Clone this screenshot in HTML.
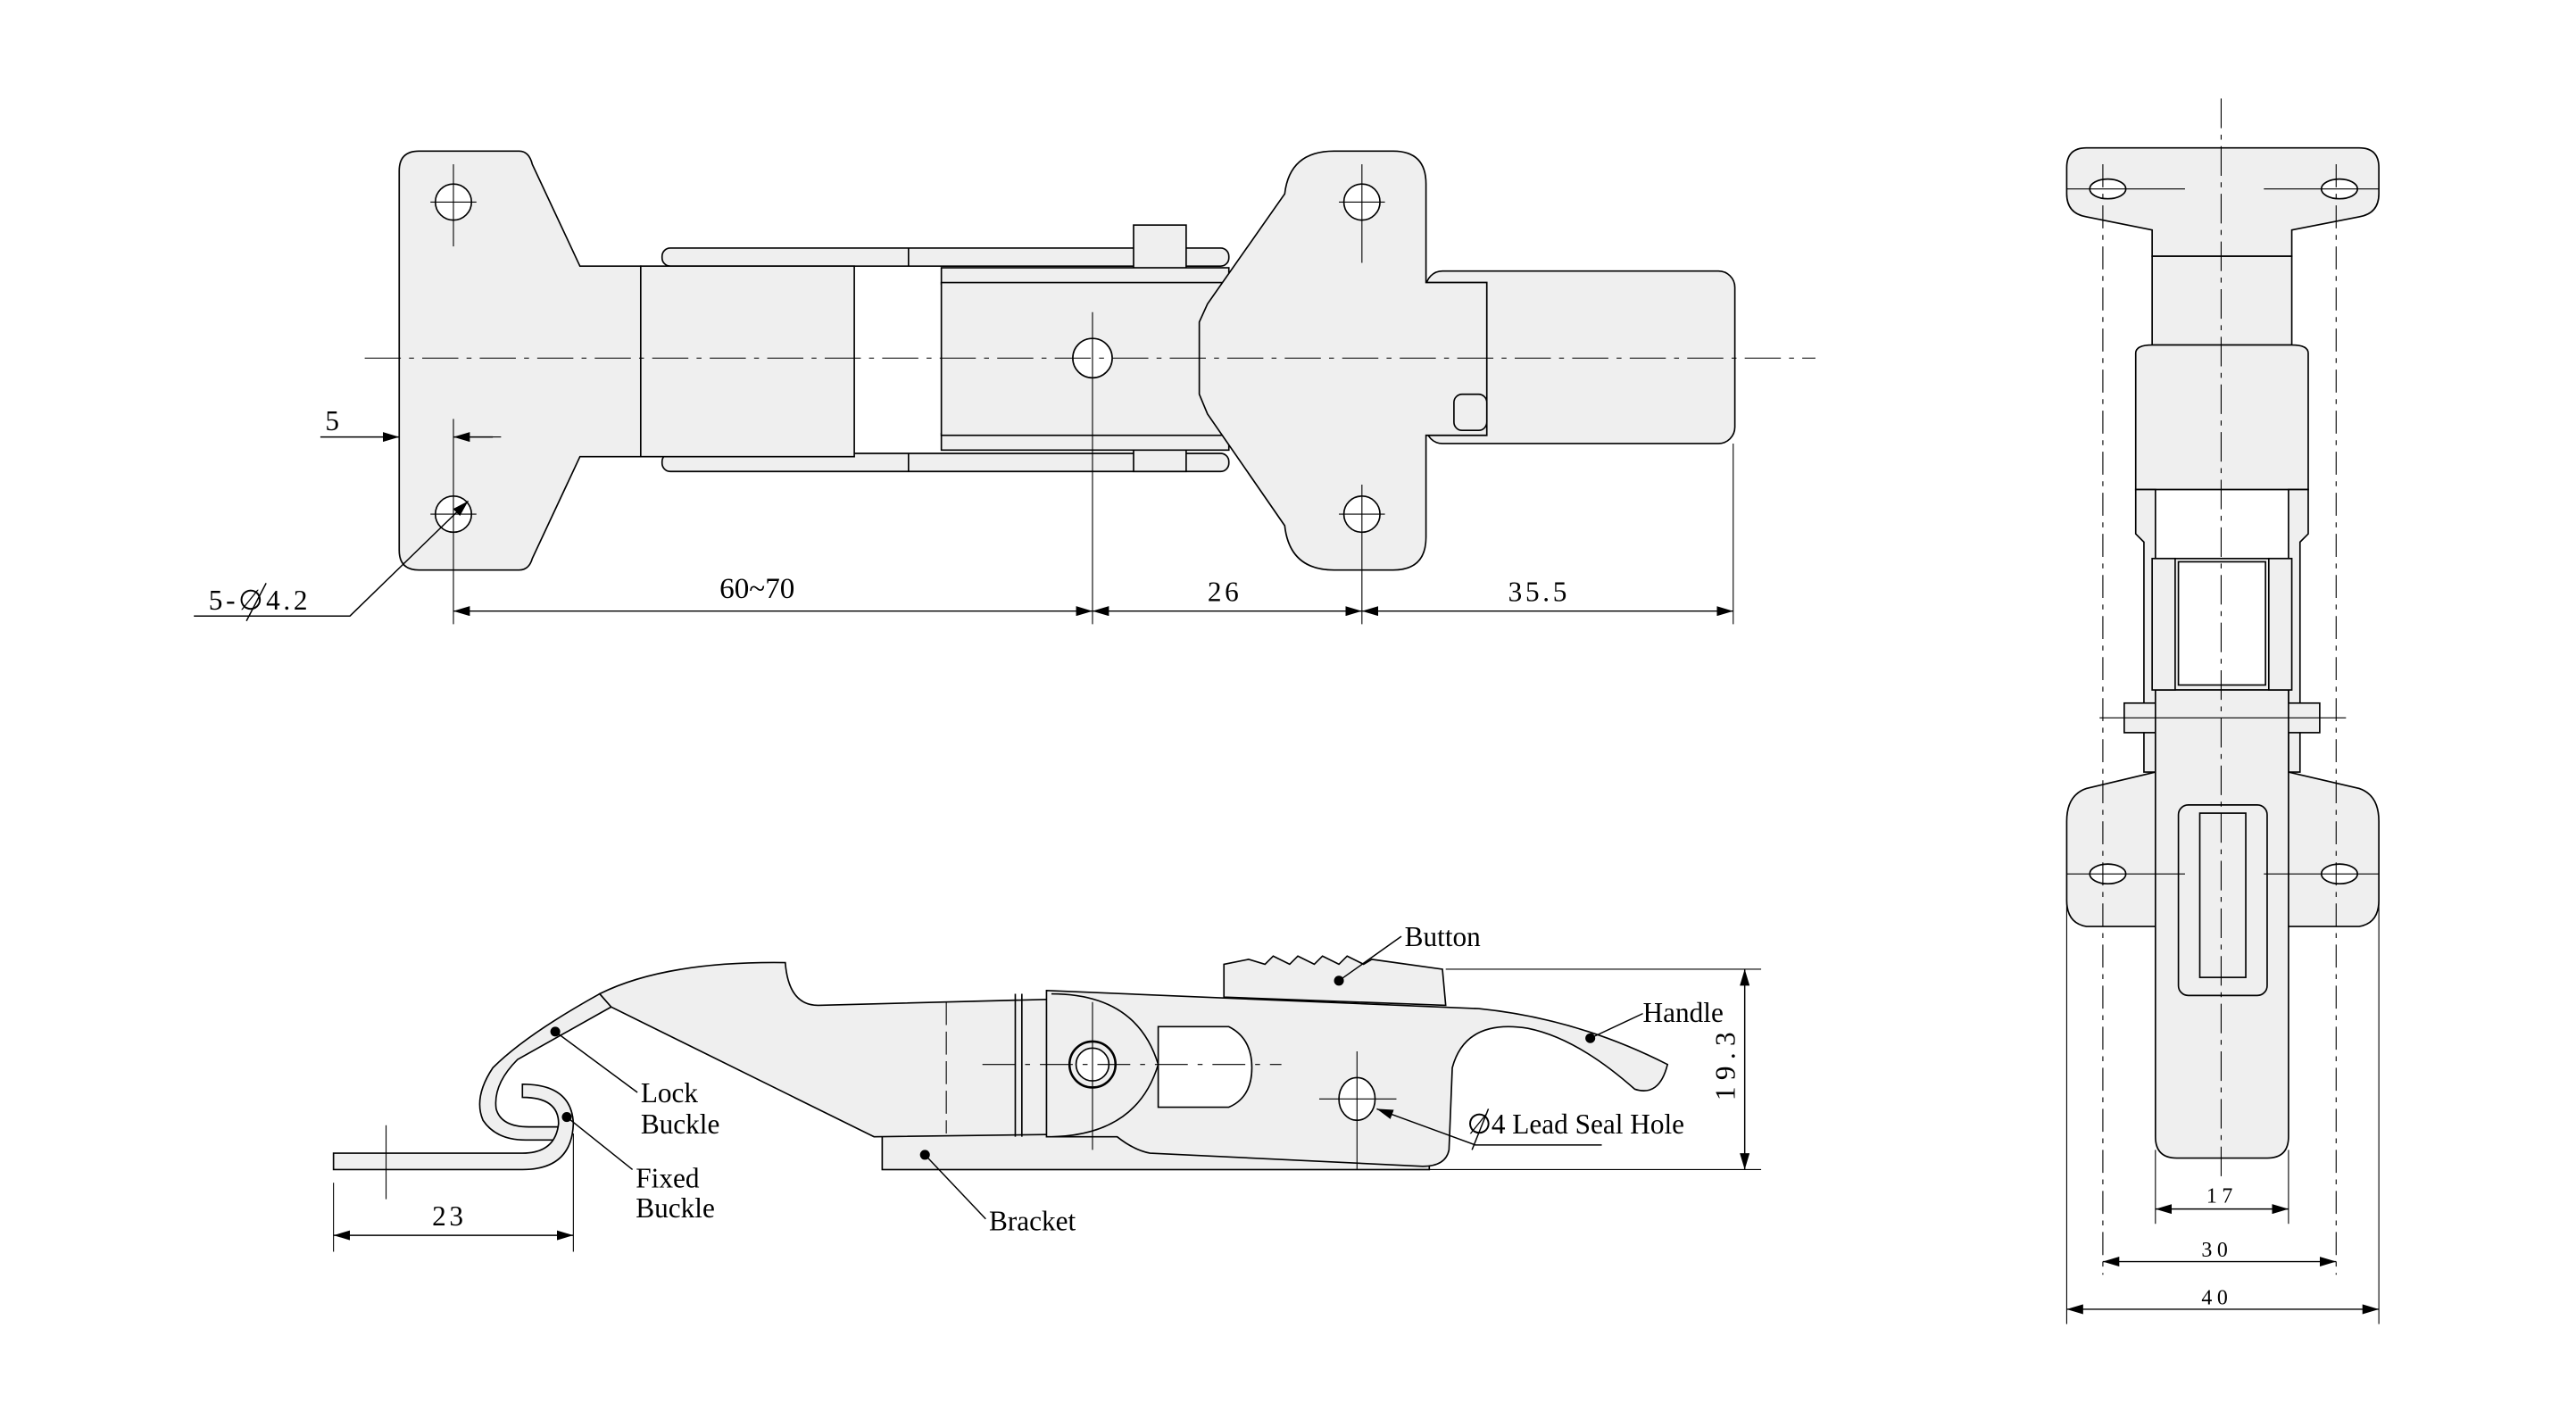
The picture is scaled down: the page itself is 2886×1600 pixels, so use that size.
<!DOCTYPE html>
<html><head><meta charset="utf-8"><style>
html,body{margin:0;padding:0;background:#fff;}
svg{display:block;}
text{font-family:"Liberation Serif",serif;fill:#000;}
</style></head><body>
<svg width="2886" height="1600" viewBox="0 0 1568 869.3" preserveAspectRatio="none" xmlns="http://www.w3.org/2000/svg">
<defs>
<marker id="a" viewBox="0 0 10 6" refX="10" refY="3" markerWidth="10" markerHeight="6" markerUnits="userSpaceOnUse" orient="auto-start-reverse"><path d="M0,0L10,3L0,6Z" fill="#000"/></marker>
</defs>
<g fill="#efefef" stroke="#000" stroke-width="0.9">
<rect x="403" y="151" width="345" height="11" rx="5"/>
<rect x="403" y="276" width="345" height="11" rx="5"/>
<rect x="690" y="137" width="32" height="150"/>
<rect x="868" y="165" width="188" height="105" rx="10"/>
<path d="M255,92 L316,92 Q322,92 324,100 L353,162 L390,162 L390,278 L353,278 L324,340 Q322,347 316,347 L255,347 Q243,347 243,335 L243,104 Q243,92 255,92 Z"/>
<rect x="390" y="162" width="130" height="116"/>
<rect x="573" y="163" width="175" height="10"/>
<rect x="573" y="264" width="175" height="10"/>
<rect x="573" y="172" width="332" height="93"/>
<path d="M812,92 L848,92 Q868,92 868,112 L868,172 L905,172 L905,265 L868,265 L868,327 Q868,347 848,347 L812,347 Q785,347 782,320 L735,252 L730,240 L730,196 L735,185 L782,118 Q785,92 812,92 Z"/>
<line x1="553" y1="151" x2="553" y2="162"/><line x1="553" y1="276" x2="553" y2="287"/>
<circle cx="276" cy="123" r="11" fill="#fff"/><circle cx="276" cy="313" r="11" fill="#fff"/>
<circle cx="829" cy="123" r="11" fill="#fff"/><circle cx="829" cy="313" r="11" fill="#fff"/>
<circle cx="665" cy="218" r="12" fill="#fff"/>
<rect x="885" y="240" width="20" height="22" rx="5"/>
</g>
<g stroke="#000" stroke-width="0.6" fill="none">
<line x1="222" y1="218" x2="1105" y2="218" stroke-dasharray="22,5,3,5"/>
<line x1="262" y1="123" x2="290" y2="123"/><line x1="815" y1="123" x2="843" y2="123"/>
<line x1="262" y1="313" x2="290" y2="313"/><line x1="815" y1="313" x2="843" y2="313"/>
<line x1="829" y1="100" x2="829" y2="160"/><line x1="829" y1="295" x2="829" y2="380"/>
<line x1="276" y1="100" x2="276" y2="150"/><line x1="276" y1="255" x2="276" y2="380"/>
<line x1="665" y1="190" x2="665" y2="380"/>
<line x1="1055" y1="270" x2="1055" y2="380"/>
<line x1="276" y1="266" x2="305" y2="266"/>
</g>
<g stroke="#000" stroke-width="0.8" fill="none">
<line x1="195" y1="266" x2="243" y2="266" marker-end="url(#a)"/>
<line x1="300" y1="266" x2="276" y2="266" marker-end="url(#a)"/>
<line x1="276" y1="372" x2="665" y2="372" marker-start="url(#a)" marker-end="url(#a)"/>
<line x1="665" y1="372" x2="829" y2="372" marker-start="url(#a)" marker-end="url(#a)"/>
<line x1="829" y1="372" x2="1055" y2="372" marker-start="url(#a)" marker-end="url(#a)"/>
<polyline points="118,375 213,375 285,305" marker-end="url(#a)"/>
<line x1="150" y1="378" x2="162" y2="355"/>
</g>
<text x="198" y="262" font-size="17">5</text>
<text x="127" y="371" font-size="17" letter-spacing="2">5-∅4.2</text>
<text x="438" y="364" font-size="18" font-family="Liberation Sans,sans-serif">60~70</text>
<text x="735" y="366" font-size="17" letter-spacing="2">26</text>
<text x="918" y="366" font-size="17" letter-spacing="2">35.5</text>

<g fill="#efefef" stroke="#000" stroke-width="0.9">
<rect x="537" y="690" width="333" height="22"/>
<path d="M365,605 Q405,585 478,586 Q480,612 498,612 L690,607 L690,690 L532,692 L372,613 Z"/>
<path d="M365,605 Q320,630 300,650 Q288,668 294,682 Q302,694 320,694 L340,694 L340,686 L322,686 Q305,686 302,675 Q300,660 315,645 L372,613 Z"/>
<path d="M203,702 L318,702 Q338,702 340,684 Q340,668 318,668 L318,660 Q348,660 349,684 Q348,712 318,712 L203,712 Z"/>
<path d="M745,587 L760,584 L770,587 L775,582 L785,587 L790,582 L800,587 L805,582 L815,587 L820,582 L830,587 L835,584 L878,590 L880,612 L745,607 Z"/>
<path d="M637,603 L900,614 Q960,620 1015,648 Q1010,668 995,663 Q960,632 930,626 Q892,620 884,650 L882,700 Q880,710 866,710 L700,702 Q690,700 680,692 L637,692 Z"/>
<path d="M640,605 Q692,605 705,648 Q692,691 640,692" />
<path d="M705,625 L748,625 Q762,632 762,650 Q762,668 748,674 L705,674 Z" fill="#fff"/>
<line x1="618" y1="605" x2="618" y2="692"/><line x1="622" y1="605" x2="622" y2="692"/>
<circle cx="665" cy="648" r="14" stroke-width="1.4"/><circle cx="665" cy="648" r="10" fill="#fff"/>
<ellipse cx="826" cy="669" rx="11" ry="13" fill="#fff"/>
</g>
<g stroke="#000" stroke-width="0.6" fill="none">
<line x1="598" y1="648" x2="780" y2="648" stroke-dasharray="20,6,3,6"/>
<line x1="665" y1="610" x2="665" y2="700"/>
<line x1="576" y1="610" x2="576" y2="690" stroke-dasharray="14,4"/>
<line x1="826" y1="640" x2="826" y2="712"/>
<line x1="803" y1="669" x2="850" y2="669"/>
<line x1="880" y1="590" x2="1072" y2="590"/>
<line x1="870" y1="712" x2="1072" y2="712"/>
<line x1="235" y1="685" x2="235" y2="730"/>
<line x1="203" y1="720" x2="203" y2="762"/><line x1="349" y1="690" x2="349" y2="762"/>
</g>
<g stroke="#000" stroke-width="0.8" fill="none">
<line x1="1062" y1="590" x2="1062" y2="712" marker-start="url(#a)" marker-end="url(#a)"/>
<line x1="203" y1="752" x2="349" y2="752" marker-start="url(#a)" marker-end="url(#a)"/>
<polyline points="975,697 898,697 838,675" marker-end="url(#a)"/>
<line x1="896" y1="700" x2="906" y2="675"/>
<polyline points="853,570 815,597"/>
<polyline points="1000,617 968,632"/>
<polyline points="388,665 338,628"/>
<polyline points="385,712 345,680"/>
<polyline points="600,742 563,703"/>
</g>
<g fill="#000"><circle cx="815" cy="597" r="3"/><circle cx="968" cy="632" r="3"/><circle cx="338" cy="628" r="3"/><circle cx="345" cy="680" r="3"/><circle cx="563" cy="703" r="3"/></g>
<g font-size="17">
<text x="855" y="576">Button</text>
<text x="1000" y="622">Handle</text>
<text x="390" y="671">Lock</text><text x="390" y="690">Buckle</text>
<text x="387" y="723">Fixed</text><text x="387" y="741">Buckle</text>
<text x="602" y="749">Bracket</text>
<text x="893" y="690">∅4 Lead Seal Hole</text>
<text x="263" y="746" letter-spacing="2">23</text>
<text transform="translate(1056,670) rotate(-90)" letter-spacing="4">19.3</text>
</g>

<g fill="#efefef" stroke="#000" stroke-width="0.9">
<path d="M1270,90 L1436,90 Q1448,90 1448,102 L1448,118 Q1448,130 1436,132 L1395,140 L1395,156 L1310,156 L1310,140 L1270,132 Q1258,130 1258,118 L1258,102 Q1258,90 1270,90 Z"/>
<rect x="1310" y="156" width="85" height="54"/>
<path d="M1300,215 Q1300,210 1310,210 L1395,210 Q1405,210 1405,215 L1405,298 L1300,298 Z"/>
<path d="M1300,298 L1312,298 L1312,470 L1305,470 L1305,330 L1300,325 Z"/>
<path d="M1393,298 L1405,298 L1405,325 L1400,330 L1400,470 L1393,470 Z"/>
<path d="M1270,480 L1312,470 L1393,470 L1436,480 Q1448,484 1448,500 L1448,548 Q1448,562 1436,564 L1270,564 Q1258,562 1258,548 L1258,500 Q1258,484 1270,480 Z"/>
<rect x="1312" y="340" width="81" height="80"/>
<rect x="1293" y="428" width="119" height="18"/>
<path d="M1312,420 L1393,420 L1393,692 Q1393,705 1380,705 L1325,705 Q1312,705 1312,692 Z"/>
<rect x="1310" y="340" width="14" height="80"/><rect x="1381" y="340" width="14" height="80"/>
<rect x="1326" y="342" width="53" height="75" fill="#fff"/>
<rect x="1326" y="490" width="54" height="116" rx="6"/>
<rect x="1339" y="495" width="28" height="100"/>
<ellipse cx="1283" cy="115" rx="11" ry="6" fill="#fff"/><ellipse cx="1424" cy="115" rx="11" ry="6" fill="#fff"/>
<ellipse cx="1283" cy="532" rx="11" ry="6" fill="#fff"/><ellipse cx="1424" cy="532" rx="11" ry="6" fill="#fff"/>
</g>
<g stroke="#000" stroke-width="0.6" fill="none">
<line x1="1352" y1="60" x2="1352" y2="720" stroke-dasharray="18,4,3,4"/>
<line x1="1280" y1="100" x2="1280" y2="776" stroke-dasharray="14,4,3,4"/>
<line x1="1422" y1="100" x2="1422" y2="776" stroke-dasharray="14,4,3,4"/>
<line x1="1258" y1="115" x2="1330" y2="115"/><line x1="1378" y1="115" x2="1448" y2="115"/>
<line x1="1258" y1="532" x2="1330" y2="532"/><line x1="1378" y1="532" x2="1448" y2="532"/>
<line x1="1278" y1="437" x2="1428" y2="437"/>
<line x1="1258" y1="548" x2="1258" y2="806"/><line x1="1448" y1="548" x2="1448" y2="806"/>
<line x1="1312" y1="700" x2="1312" y2="745"/><line x1="1393" y1="700" x2="1393" y2="745"/>
</g>
<g stroke="#000" stroke-width="0.8" fill="none">
<line x1="1312" y1="736" x2="1393" y2="736" marker-start="url(#a)" marker-end="url(#a)"/>
<line x1="1280" y1="768" x2="1422" y2="768" marker-start="url(#a)" marker-end="url(#a)"/>
<line x1="1258" y1="797" x2="1448" y2="797" marker-start="url(#a)" marker-end="url(#a)"/>
</g>
<g font-size="13" letter-spacing="3">
<text x="1343" y="732">17</text>
<text x="1340" y="765">30</text>
<text x="1340" y="794">40</text>
</g>
</svg>
</body></html>
